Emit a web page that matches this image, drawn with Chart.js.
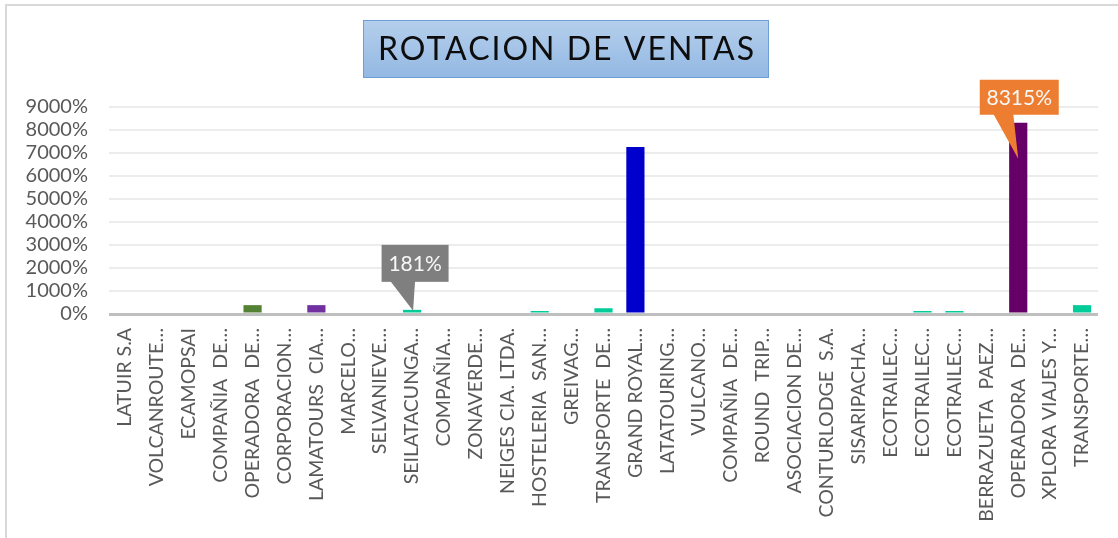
<!DOCTYPE html>
<html>
<head>
<meta charset="utf-8">
<title>Rotacion de ventas</title>
<script src="https://cdn.jsdelivr.net/npm/chart.js@4.4.1/dist/chart.umd.min.js"></script>
<style>
  html, body { margin: 0; padding: 0; background: #fff; }
  #wrap { position: relative; width: 1118px; height: 538px; overflow: hidden; }
  #wrap canvas { position: absolute; left: 0; top: 0; }
  #frame { position: absolute; left: 5px; top: 4px; right: -4px; bottom: -4px;
           border-top: 2px solid #D9D9D9; border-left: 2px solid #D9D9D9; pointer-events: none; }
</style>
</head>
<body>
<div id="wrap">
  <canvas id="chart" width="1118" height="538"></canvas>
  <div id="frame"></div>
</div>
<script>
const chartTitle = 'ROTACION DE VENTAS';

const companies = [
  'LATUIR S.A', 'VOLCANROUTE…', 'ECAMOPSAI', 'COMPAÑIA  DE…', 'OPERADORA  DE…',
  'CORPORACION…', 'LAMATOURS  CIA…', 'MARCELO…', 'SELVANIEVE…', 'SEILATACUNGA…',
  'COMPAÑIA…', 'ZONAVERDE…', 'NEIGES CIA. LTDA.', 'HOSTELERIA  SAN…', 'GREIVAG…',
  'TRANSPORTE  DE…', 'GRAND ROYAL…', 'LATATOURING…', 'VULCANO…', 'COMPAÑIA  DE…',
  'ROUND  TRIP…', 'ASOCIACION DE…', 'CONTURLODGE  S.A.', 'SISARIPACHA…', 'ECOTRAILEC…',
  'ECOTRAILEC…', 'ECOTRAILEC…', 'BERRAZUETA  PAEZ…', 'OPERADORA  DE…', 'XPLORA VIAJES Y…',
  'TRANSPORTE…'
];

// rotacion de ventas, in percent
const rotacion = [
  0, 0, 0, 0, 385,
  0, 385, 0, 0, 181,
  0, 0, 0, 130, 0,
  250, 7260, 0, 0, 0,
  0, 0, 0, 0, 0,
  130, 130, 0, 8315, 0,
  385
];

const barColors = [
  '#00CC99', '#00CC99', '#00CC99', '#00CC99', '#548235',
  '#00CC99', '#7030A0', '#00CC99', '#00CC99', '#00CC99',
  '#00CC99', '#00CC99', '#00CC99', '#00CC99', '#00CC99',
  '#00CC99', '#0000CC', '#00CC99', '#00CC99', '#00CC99',
  '#00CC99', '#00CC99', '#00CC99', '#00CC99', '#00CC99',
  '#00CC99', '#00CC99', '#00CC99', '#660066', '#00CC99',
  '#00CC99'
];

const yMax = 9000;
const yStep = 1000;

// which bars get a callout label, and how it is placed around the bar top
const callouts = [
  { index: 9,  fill: '#7F7F7F', w: 67, h: 37, dx: 3, gap: 28, baseL: -22, baseR: 3,  tipDx: 1, tipDy: 1 },
  { index: 28, fill: '#ED7D31', w: 79, h: 35, dx: 1, gap: 8,  baseL: -25, baseR: -5, tipDx: 0, tipDy: 36 }
];

const FONT = 'Lato, "Open Sans", sans-serif';

const titleBox = {
  id: 'titleBox',
  afterDraw(chart) {
    const ctx = chart.ctx;
    const x = 363, y = 20, w = 406, h = 58;
    ctx.save();
    const g = ctx.createLinearGradient(0, y, 0, y + h);
    g.addColorStop(0, '#B5CFEC');
    g.addColorStop(1, '#93B8E3');
    ctx.fillStyle = g;
    ctx.fillRect(x, y, w, h);
    ctx.strokeStyle = '#6C9FD6';
    ctx.lineWidth = 1;
    ctx.strokeRect(x + 0.5, y + 0.5, w - 1, h - 1);
    ctx.fillStyle = '#0D0D0D';
    ctx.font = '32px ' + FONT;
    ctx.letterSpacing = '2px';
    ctx.textAlign = 'center';
    ctx.textBaseline = 'middle';
    ctx.fillText(chartTitle, x + w / 2 + 1, y + h / 2 + 1);
    ctx.restore();
  }
};

const calloutLabels = {
  id: 'calloutLabels',
  afterDatasetsDraw(chart) {
    const ctx = chart.ctx;
    const meta = chart.getDatasetMeta(0);
    ctx.save();
    callouts.forEach((c) => {
      const bar = meta.data[c.index];
      const bx = bar.x, by = bar.y;
      const cx = bx + c.dx;
      const bottom = by - c.gap;
      const top = bottom - c.h;
      ctx.fillStyle = c.fill;
      ctx.fillRect(cx - c.w / 2, top, c.w, c.h);
      ctx.beginPath();
      ctx.moveTo(bx + c.baseL, bottom - 1);
      ctx.lineTo(bx + c.baseR, bottom - 1);
      ctx.lineTo(bx + c.tipDx, by + c.tipDy);
      ctx.closePath();
      ctx.fill();
      ctx.fillStyle = '#F7F7F7';
      ctx.font = '21px ' + FONT;
      ctx.textAlign = 'center';
      ctx.textBaseline = 'middle';
      ctx.fillText(Math.round(rotacion[c.index]) + '%', cx, top + c.h / 2 + 1);
    });
    ctx.restore();
  }
};

const ctx = document.getElementById('chart').getContext('2d');
new Chart(ctx, {
  type: 'bar',
  data: {
    labels: companies,
    datasets: [{
      label: 'Rotacion',
      data: rotacion,
      backgroundColor: barColors,
      borderWidth: 0,
      barPercentage: 0.57,
      categoryPercentage: 1
    }]
  },
  options: {
    responsive: false,
    animation: false,
    devicePixelRatio: 1,
    layout: { padding: { top: 107, right: 20, bottom: 0, left: 0 } },
    plugins: {
      legend: { display: false },
      tooltip: { enabled: false },
      title: { display: false }
    },
    scales: {
      x: {
        grid: { display: false },
        border: { display: false },
        ticks: {
          autoSkip: false,
          maxRotation: 90,
          minRotation: 90,
          padding: 6,
          color: '#595959',
          font: { family: FONT, size: 19.5 }
        },
        afterFit(scale) { scale.height = 224; }
      },
      y: {
        min: 0,
        max: yMax,
        border: { display: false },
        grid: {
          drawTicks: false,
          color: (c) => (c.tick && c.tick.value === 0 ? '#BFBFBF' : '#ECECEC'),
          lineWidth: (c) => (c.tick && c.tick.value === 0 ? 3 : 2)
        },
        ticks: {
          autoSkip: false,
          stepSize: yStep,
          padding: 21,
          color: '#595959',
          font: { family: FONT, size: 20 },
          callback: (v) => v + '%'
        },
        afterFit(scale) { scale.width = 109; }
      }
    }
  },
  plugins: [titleBox, calloutLabels]
});
</script>
</body>
</html>
